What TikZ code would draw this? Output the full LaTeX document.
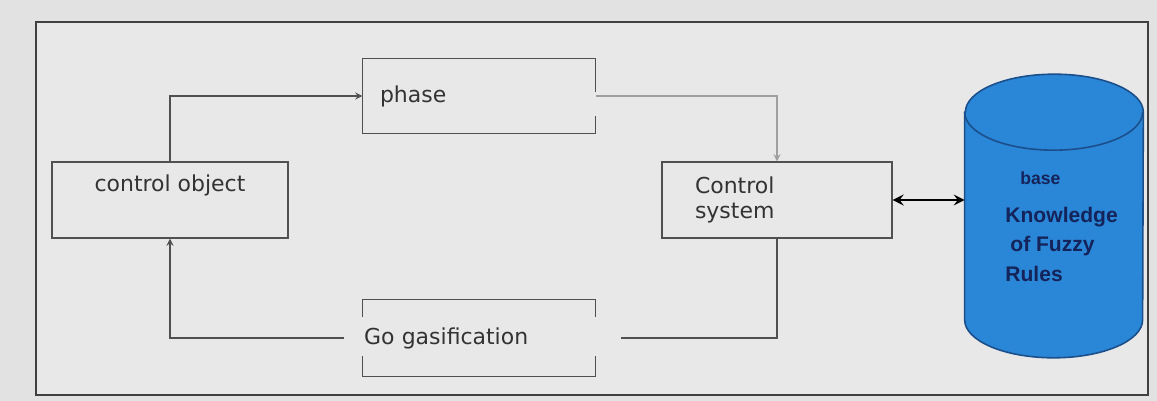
\documentclass[tikz,border=0pt]{standalone}
\usepackage{fontspec}
\setmainfont{DejaVu Sans}
\newfontfamily\kbfont{Liberation Sans}
\usetikzlibrary{positioning}
\definecolor{paper}{HTML}{E2E2E2}
\definecolor{panel}{HTML}{E8E8E8}
\definecolor{linegray}{HTML}{505050}
\definecolor{dbblue}{HTML}{2A86D6}
\definecolor{dbedge}{HTML}{1B4F8C}
\definecolor{dbink}{HTML}{14245A}

\begin{document}
\begin{tikzpicture}[x=0.02cm, y=-0.02cm, >=stealth,
  box/.style={rectangle, draw=linegray, line width=0.8pt, minimum width=4.64cm, minimum height=1.52cm, inner sep=0pt, font=\fontsize{12.5}{14.5}\selectfont, text=black!80},
  openbox/.style={box, draw=none},
  edge/.style={draw=linegray, line width=0.8pt},
  link/.style={draw=linegray, line width=0.8pt},
  kbase/.style={rectangle, minimum width=3.56cm, minimum height=5.66cm, inner sep=0pt},
  dbrim/.style={x radius=1.78cm, y radius=0.76cm},
  kbtext/.style={align=left, inner sep=0pt, text=dbink, font=\kbfont\bfseries\fontsize{12}{17}\selectfont}]

  % Background and frame
  \fill[paper] (0,0) rectangle (1157,401);
  \useasboundingbox (0,0) rectangle (1157,401);
  \filldraw[fill=panel, draw=black!75, line width=1.1pt] (36,22) rectangle (1148,395);

  % Nodes
  \node[box, minimum width=4.72cm, text height=0.6cm, text depth=0.92cm] (obj) at (170,200) {control object};
  \node[openbox, minimum height=1.48cm, text width=3.96cm, inner xsep=0.34cm, align=left] (phase) at (479,96) {phase};
  \node[box, minimum width=4.6cm, text width=3.28cm, inner xsep=0.66cm, align=left] (sys) at (777,200) {Control\\system};
  \node[openbox, text width=4.6cm, inner xsep=0.02cm, align=left] (gas) at (479,338) {Go gasification};
  \node[kbase] (db) at (1054,216) {};

  % Cylinder
  \filldraw[fill=dbblue, draw=dbedge, line width=0.9pt] ([yshift=-0.76cm]db.north west) -- ([yshift=0.76cm]db.south west)
    arc[start angle=180, end angle=360, dbrim] -- ([yshift=-0.76cm]db.north east)
    arc[start angle=0, end angle=180, dbrim] -- cycle;
  \draw[dbedge, line width=0.9pt] ([yshift=-0.76cm]db.north west) arc[start angle=180, end angle=360, dbrim];
  \node[kbtext, anchor=north west] (kb) at ([xshift=-0.98cm, yshift=0.9cm]db.center) {\hspace*{0.3cm}{\fontsize{10}{11}\selectfont base}\\[4.6pt]Knowledge\\\hspace*{0.1cm}of Fuzzy\\Rules};

  % Open outlines
  \draw[edge] ([yshift=-0.68cm]phase.north east) -- (phase.north east) -- (phase.north west) -- (phase.south west) -- (phase.south east) -- ([yshift=0.36cm]phase.south east);
  \draw[edge] ([yshift=-0.36cm]gas.north west) -- (gas.north west) -- (gas.north east) -- ([yshift=-0.36cm]gas.north east);
  \draw[edge] ([yshift=0.42cm]gas.south west) -- (gas.south west) -- (gas.south east) -- ([yshift=0.42cm]gas.south east);

  % Connectors
  \draw[link, ->] (obj.north) |- (phase.west);
  \draw[link, ->, draw=gray!75] (phase.east) -| (sys.north);
  \draw[link] (sys.south) |- ([xshift=0.5cm]gas.east);
  \draw[link, ->] ([xshift=-0.36cm]gas.west) -| (obj.south);
  \draw[<->, line width=1.7pt] (sys.east) -- (sys.east -| db.west);

\end{tikzpicture}
\end{document}
